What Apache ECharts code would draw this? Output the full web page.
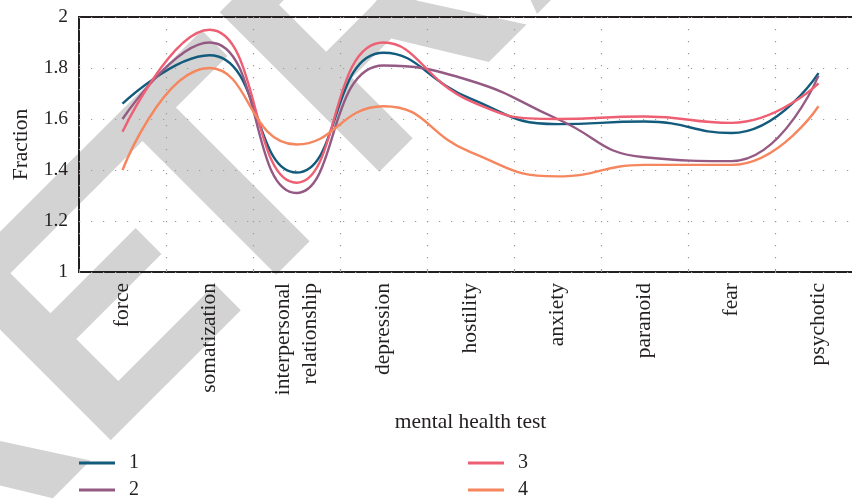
<!DOCTYPE html>
<html><head><meta charset="utf-8">
<script src="https://cdn.jsdelivr.net/npm/echarts@6/dist/echarts.min.js"></script>
<style>html,body{margin:0;padding:0;background:#fff}#c{width:852px;height:500px}</style>
</head><body><div id="c"></div>
<script>
const categories = ['force','somatization','interpersonal\nrelationship','depression','hostility','anxiety','paranoid','fear','psychotic'];
const series1 = [1.66, 1.85, 1.39, 1.86, 1.68, 1.58, 1.59, 1.545, 1.78];
const series2 = [1.60, 1.90, 1.31, 1.81, 1.75, 1.60, 1.45, 1.435, 1.77];
const series3 = [1.55, 1.95, 1.35, 1.90, 1.67, 1.60, 1.61, 1.585, 1.74];
const series4 = [1.40, 1.80, 1.50, 1.65, 1.47, 1.375, 1.42, 1.42, 1.65];
const seriesNames = ['1','2','3','4'];
const yTicks = {min: 1, max: 2, interval: 0.2};
const watermarkText = 'RETRACTED';

const colors = ['#135b7c', '#955a83', '#ee5f73', '#f6865e'];
const FONT = 'Liberation Serif';
const TXT = '#231f20';
const TS = 21.5;

// ---- watermark (rotated text, drawn under everything) ----
const WM_SIZE = 328, WM_BASE = 551, K = Math.SQRT1_2;
const wmFont = 'bold ' + WM_SIZE + 'px "Liberation Sans"';
const cv = document.createElement('canvas').getContext('2d');
cv.font = wmFont; cv.textBaseline = 'middle';
let off = -cv.measureText('E').alphabeticBaseline;
if (!isFinite(off) || off <= 0) off = 0.3465 * WM_SIZE;
const adv = ch => cv.measureText(ch).width;
const letters = watermarkText.split('');
const origins = [];
origins[1] = -255; origins[0] = origins[1] - adv(letters[0]);
origins[2] = -75.5;
for (let i = 3; i < letters.length; i++) origins[i] = origins[i - 1] + adv(letters[i - 1]);
const wmElements = letters.map((ch, i) => {
  const s = origins[i];
  const px = (WM_BASE + Math.SQRT2 * s) / 2, py = (WM_BASE - Math.SQRT2 * s) / 2;
  return {type: 'text', x: px - off * K, y: py - off * K, rotation: Math.PI / 4, z: -100, silent: true,
    style: {text: ch, font: wmFont, fill: '#d3d3d3', textAlign: 'left', verticalAlign: 'middle', textVerticalAlign: 'middle'}};
});

const chart = echarts.init(document.getElementById('c'), null, {renderer: 'canvas'});
const dotted = {color: '#9a9a9a', width: 1.2, type: [1.2, 10.8]};
const mk = (name, data, i) => ({
  name, type: 'line', data, smooth: 0.5, showSymbol: false, symbol: 'none', z: 5,
  lineStyle: {width: 2.4, color: colors[i]}, itemStyle: {color: colors[i]}
});
const legendCommon = {
  orient: 'vertical', icon: 'rect', itemWidth: 36, itemHeight: 3, itemGap: 7, padding: 0, top: 453, height: 47,
  textStyle: {fontFamily: FONT, fontSize: 20, color: TXT, padding: [0, 0, 0, 9], lineHeight: 19}
};
chart.setOption({
  animation: false,
  color: colors,
  graphic: {elements: wmElements},
  grid: {left: 79, top: 17, width: 783, height: 255, outerBoundsMode: 'none', containLabel: false,
    show: true, borderColor: TXT, borderWidth: 2, backgroundColor: 'transparent'},
  legend: [
    Object.assign({left: 79, data: [seriesNames[0], seriesNames[1]]}, legendCommon),
    Object.assign({left: 468, data: [seriesNames[2], seriesNames[3]]}, legendCommon)
  ],
  xAxis: {
    type: 'category', data: categories, boundaryGap: true,
    name: 'mental health test', nameLocation: 'middle', nameGap: 139,
    nameTextStyle: {fontFamily: FONT, fontSize: TS, color: TXT},
    axisLine: {show: false},
    axisTick: {show: true, inside: true, length: 3, lineStyle: {color: '#9a9a9a'}},
    axisLabel: {rotate: 90, margin: 11, fontFamily: FONT, fontSize: TS, color: TXT, lineHeight: 27, interval: 0},
    splitLine: {show: true, lineStyle: dotted}
  },
  yAxis: {
    type: 'value', min: yTicks.min, max: yTicks.max, interval: yTicks.interval,
    name: 'Fraction', nameLocation: 'middle', nameGap: 44, nameRotate: 90,
    nameTextStyle: {fontFamily: FONT, fontSize: TS, color: TXT},
    axisLine: {show: false}, axisTick: {show: false},
    axisLabel: {margin: 11, fontFamily: FONT, fontSize: 19.5, color: TXT},
    splitLine: {show: true, lineStyle: dotted}
  },
  series: [mk(seriesNames[0], series1, 0), mk(seriesNames[1], series2, 1), mk(seriesNames[2], series3, 2), mk(seriesNames[3], series4, 3)]
});
</script></body></html>
